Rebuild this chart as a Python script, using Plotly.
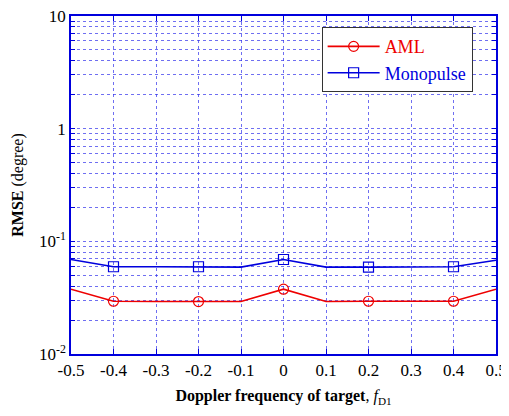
import plotly.graph_objects as go

doppler = [-0.5, -0.4, -0.3, -0.2, -0.1, 0.0, 0.1, 0.2, 0.3, 0.4, 0.5]
rmse_aml = [0.0376, 0.0294, 0.0292, 0.0292, 0.0292, 0.0376, 0.0292, 0.0294, 0.0292, 0.0294, 0.0376]
rmse_mono = [0.069, 0.0595, 0.0595, 0.0595, 0.059, 0.069, 0.059, 0.059, 0.059, 0.0595, 0.068]
marker_every = [False, True, False, True, False, True, False, True, False, True, False]

x_tickvals = [-0.5, -0.4, -0.3, -0.2, -0.1, 0.0, 0.1, 0.2, 0.3, 0.4, 0.5]
x_ticktext = ["-0.5", "-0.4", "-0.3", "-0.2", "-0.1", "0", "0.1", "0.2", "0.3", "0.4", "0.5"]
y_decades = [0.01, 0.1, 1, 10]
y_decade_text = ["10<sup>-2</sup>", "10<sup>-1</sup>", "1", "10"]

RED = "#ee0000"
BLUE = "#0000dd"
FONT = "Liberation Serif"

# all ticks (decades + minor 2..9) for grid
y_tickvals, y_ticktext = [], []
for d, t in zip(y_decades, y_decade_text):
    y_tickvals.append(d)
    y_ticktext.append(t)
    if d < 10:
        for m in range(2, 10):
            y_tickvals.append(d * m)
            y_ticktext.append("")

def sub(xs, ys, flags):
    return [x for x, f in zip(xs, flags) if f], [y for y, f in zip(ys, flags) if f]

fig = go.Figure()
for ys, color, sym, name in [
    (rmse_aml, RED, "circle-open", "AML"),
    (rmse_mono, BLUE, "square-open", "Monopulse"),
]:
    fig.add_trace(go.Scatter(x=doppler, y=ys, mode="lines", line=dict(color=color, width=1.6),
                             showlegend=False, hoverinfo="skip"))
    mx, my = sub(doppler, ys, marker_every)
    fig.add_trace(go.Scatter(x=mx, y=my, mode="markers",
                             marker=dict(symbol=sym, size=10, color=color, line=dict(width=1.2, color=color)),
                             showlegend=False))
    fig.add_trace(go.Scatter(x=[None], y=[None], mode="lines+markers",
                             line=dict(color=color, width=1.6),
                             marker=dict(symbol=sym, size=10, color=color, line=dict(width=1.2, color=color)),
                             name=f"<span style='color:{color}'>{name}</span>"))

grid_color = "rgba(50,50,235,0.7)"
fig.update_xaxes(
    range=[-0.5, 0.5], tickvals=x_tickvals, ticktext=x_ticktext, automargin=False,
    ticklabeloverflow="allow",
    showgrid=True, gridcolor=grid_color, griddash="dot", gridwidth=1,
    showline=True, linecolor=BLUE, linewidth=1.5, mirror="ticks",
    ticks="inside", ticklen=5, tickcolor=BLUE, zeroline=False,
    tickfont=dict(family=FONT, size=17, color="black"),
    title=dict(text="<b>Doppler frequency of target</b>, <i>f</i><sub>D1</sub>",
               font=dict(family=FONT, size=16, color="black"), standoff=11),
)
fig.update_yaxes(
    type="log", range=[-2, 1], tickvals=y_tickvals, ticktext=y_ticktext, automargin=False,
    ticklabeloverflow="allow",
    showgrid=True, gridcolor=grid_color, griddash="dot", gridwidth=1,
    showline=True, linecolor=BLUE, linewidth=1.5, mirror="ticks",
    ticks="inside", ticklen=4, tickcolor=BLUE, zeroline=False,
    tickfont=dict(family=FONT, size=17, color="black"),
    title=dict(text="<b>RMSE</b> (degree)", font=dict(family=FONT, size=16, color="black"), standoff=11),
)
# the page body adds an 8px offset; size/margins compensate so the plot box lands at x 71-496, y 16-354
fig.update_layout(
    width=501, height=408,
    margin=dict(l=63, r=13, t=8, b=62),
    plot_bgcolor="white", paper_bgcolor="white",
    legend=dict(x=0.945, y=0.967, xanchor="right", yanchor="top",
                bgcolor="white", bordercolor="#333333", borderwidth=1,
                font=dict(family=FONT, size=18), tracegroupgap=0, itemwidth=52),
    showlegend=True,
)
fig.write_html("out.html")
